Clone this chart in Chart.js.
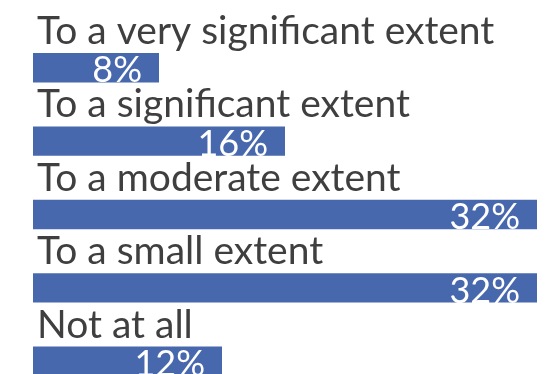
<!DOCTYPE html>
<html>
<head>
<meta charset="utf-8">
<script src="https://cdn.jsdelivr.net/npm/chart.js@4"></script>
<style>
  html, body { margin: 0; padding: 0; background: #fff; overflow: hidden; }
  #wrap { width: 557px; height: 374px; overflow: hidden; }
</style>
</head>
<body>
<div id="wrap">
  <canvas id="barChart" width="557" height="398"></canvas>
</div>
<script>
const categories = [
  'To a very significant extent',
  'To a significant extent',
  'To a moderate extent',
  'To a small extent',
  'Not at all'
];
const shares = [8, 16, 32, 32, 12];

const barColor = '#4868ae';
const textColor = '#3f3f3f';
const fontFamily = 'Lato, "Open Sans", sans-serif';

// category name above each bar, percentage in white at the bar's end
const barLabels = {
  id: 'barLabels',
  afterDatasetsDraw(chart) {
    const ctx = chart.ctx;
    const left = chart.chartArea.left;
    chart.getDatasetMeta(0).data.forEach((bar, i) => {
      const top = bar.y - bar.height / 2;
      const bottom = bar.y + bar.height / 2;
      ctx.save();
      ctx.textBaseline = 'alphabetic';
      ctx.font = '39px ' + fontFamily;
      ctx.fillStyle = textColor;
      ctx.textAlign = 'left';
      ctx.fillText(chart.data.labels[i], left + 4, top - 9);
      ctx.font = '36px ' + fontFamily;
      ctx.fillStyle = '#ffffff';
      ctx.textAlign = 'right';
      ctx.fillText(shares[i] + '%', bar.x - 17, bottom);
      ctx.restore();
    });
  }
};

const barConfig = {
  type: 'bar',
  data: {
    labels: categories,
    datasets: [{
      data: shares,
      backgroundColor: barColor,
      borderWidth: 0,
      categoryPercentage: 1,
      barPercentage: 0.4
    }]
  },
  options: {
    indexAxis: 'y',
    responsive: false,
    animation: false,
    layout: {
      padding: { left: 33, right: 20, top: 31, bottom: 0 }
    },
    plugins: {
      legend: { display: false },
      tooltip: { enabled: false }
    },
    scales: {
      x: { display: false, min: 0, max: 32 },
      y: { display: false }
    }
  },
  plugins: [barLabels]
};

const myBarChart = new Chart(document.getElementById('barChart'), barConfig);
</script>
</body>
</html>
